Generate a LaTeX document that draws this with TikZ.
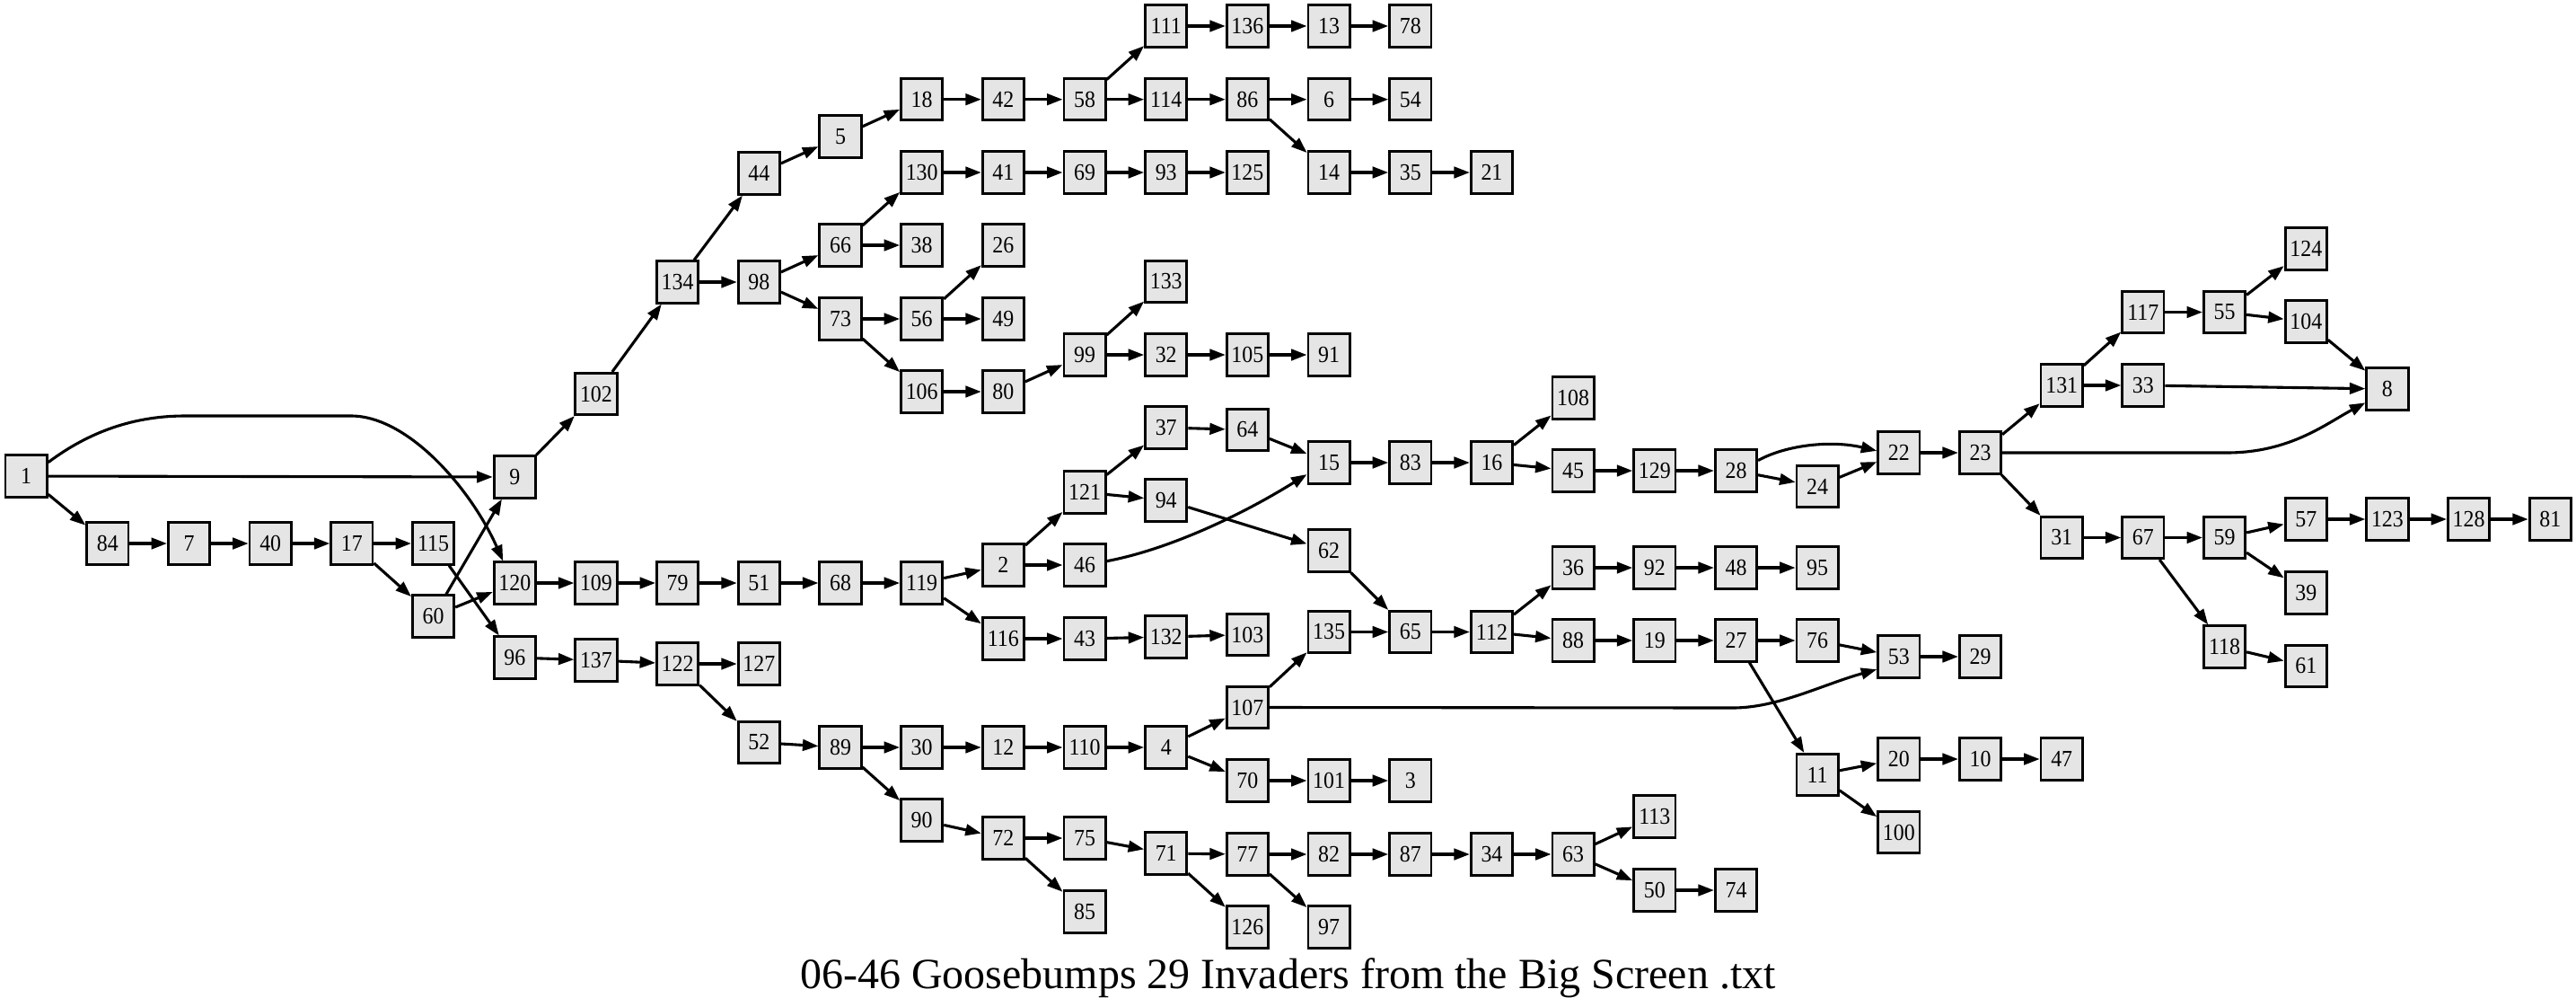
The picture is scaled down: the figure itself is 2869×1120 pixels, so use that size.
\documentclass[tikz,border=0pt]{standalone}
\usepackage{fontspec}
\setmainfont{Liberation Serif}
\newfontfamily\nodefont[FakeStretch=0.92]{Liberation Serif}
\usetikzlibrary{arrows.meta}
\definecolor{nodegray}{RGB}{229,229,229}
\tikzset{
  box/.style={draw, line width=2.8pt, fill=nodegray, minimum width=46.3pt, minimum height=46.3pt, inner sep=0pt, font=\nodefont\fontsize{26}{26}\selectfont},
  edge/.style={line width=3.1pt, -{Triangle[length=17.5pt,width=12.5pt]}}
}
\begin{document}
\begin{tikzpicture}[x=1pt,y=-1pt]
\fill[white] (0,0) rectangle (2869,1120);
\useasboundingbox (0,0) rectangle (2869,1120);
\foreach \n/\c/\y in {
1/0/530, 84/1/605, 7/2/605, 40/3/605, 17/4/605, 115/5/605, 60/5/686,
9/6/531, 120/6/649, 96/6/732, 102/7/438.5, 109/7/649, 137/7/735,
134/8/314, 79/8/649, 122/8/739, 44/9/193, 98/9/314, 51/9/649, 127/9/739, 52/9/826.5,
5/10/152, 66/10/273, 73/10/355, 68/10/649, 89/10/832,
18/11/110.7, 130/11/192, 38/11/273, 56/11/355, 106/11/436, 119/11/649, 30/11/832, 90/11/913,
42/12/110.7, 41/12/192, 26/12/273, 49/12/355, 80/12/436, 2/12/629, 116/12/711, 12/12/832, 72/12/933,
58/13/110.7, 69/13/192, 99/13/395, 121/13/548, 46/13/629, 43/13/711, 110/13/832, 75/13/933, 85/13/1015,
111/14/29, 114/14/110.7, 93/14/192, 133/14/313.5, 32/14/395, 37/14/476, 94/14/557, 132/14/709, 4/14/832, 71/14/950,
136/15/29, 86/15/110.7, 125/15/192, 105/15/395, 64/15/478.5, 103/15/706.5, 107/15/787.5, 70/15/869, 77/15/951, 126/15/1032,
13/16/29, 6/16/110.7, 14/16/192, 91/16/395, 15/16/515, 62/16/613, 135/16/703.5, 101/16/869, 82/16/951, 97/16/1032,
78/17/29, 54/17/110.7, 35/17/192, 83/17/515, 65/17/703.5, 3/17/869, 87/17/951,
21/18/192, 16/18/515, 112/18/703.5, 34/18/951,
108/19/443, 45/19/524, 36/19/632, 88/19/713, 63/19/951,
129/20/524, 92/20/632, 19/20/713, 113/20/909, 50/20/991,
28/21/524, 48/21/632, 27/21/713, 74/21/991,
24/22/541.5, 95/22/632, 76/22/713, 11/22/862.5,
22/23/504, 53/23/731, 20/23/845, 100/23/926.5,
23/24/504, 29/24/731, 10/24/845,
131/25/429, 31/25/598.5, 47/25/845,
117/26/347.5, 33/26/429, 67/26/598.5,
55/27/347.5, 59/27/598.5, 118/27/720,
124/28/277, 104/28/358, 57/28/578, 39/28/660, 61/28/741.5,
8/29/433, 123/29/578, 128/30/578, 81/31/578}
  \node[box] (n\n) at ({29.2+90.68*\c},\y) {\n};
\foreach \a/\b in {
1/9, 1/84, 84/7, 7/40, 40/17, 17/115, 17/60, 115/96, 60/9, 60/120, 9/102, 102/134,
134/44, 134/98, 44/5, 5/18, 18/42, 42/58, 58/111, 58/114, 111/136, 136/13, 13/78,
114/86, 86/6, 6/54, 86/14, 14/35, 35/21, 98/66, 98/73, 66/130, 66/38, 130/41, 41/69,
69/93, 93/125, 73/56, 73/106, 56/26, 56/49, 106/80, 80/99, 99/133, 99/32, 32/105, 105/91,
120/109, 109/79, 79/51, 51/68, 68/119, 119/2, 119/116, 2/121, 2/46, 121/37, 121/94,
37/64, 64/15, 94/62, 62/65, 15/83, 83/16, 16/108, 16/45, 45/129, 129/28, 28/24, 24/22,
22/23, 23/131, 23/31, 131/117, 131/33, 117/55, 55/124, 55/104, 104/8, 33/8, 31/67, 67/59,
67/118, 59/57, 59/39, 57/123, 123/128, 128/81, 118/61, 116/43, 43/132, 132/103, 96/137,
137/122, 122/127, 122/52, 52/89, 89/30, 89/90, 30/12, 12/110, 110/4, 4/107, 4/70,
107/135, 135/65, 65/112, 112/36, 112/88, 36/92, 92/48, 48/95, 88/19, 19/27, 27/76,
27/11, 76/53, 53/29, 11/20, 11/100, 20/10, 10/47, 70/101, 101/3, 90/72, 72/75, 72/85,
75/71, 71/77, 71/126, 77/82, 77/97, 82/87, 87/34, 34/63, 63/113, 63/50, 50/74}
  \draw[edge] (n\a) -- (n\b);
% curved connectors
\draw[edge] (n1.32) .. controls (100,480) and (150,463) .. (206,463) -- (391,463)
  .. controls (455,463) and (525,545) .. (n120.118);
\draw[edge] (n46.10) .. controls (1300,612) and (1380,575) .. (n15.208);
\draw[edge] (n28.25) .. controls (1990,495) and (2040,490) .. (n22.175);
\draw[edge] (n23.east) -- (2480,504) .. controls (2550,504) and (2590,472) .. (n8.212);
\draw[edge] (n107.east) -- (1930,788) .. controls (1980,788) and (2030,762) .. (n53.210);
\node[anchor=base, font=\fontsize{48}{48}\selectfont] (title) at (1434.5,1100)
  {06-46 Goosebumps 29 Invaders from the Big Screen .txt};
\end{tikzpicture}
\end{document}
